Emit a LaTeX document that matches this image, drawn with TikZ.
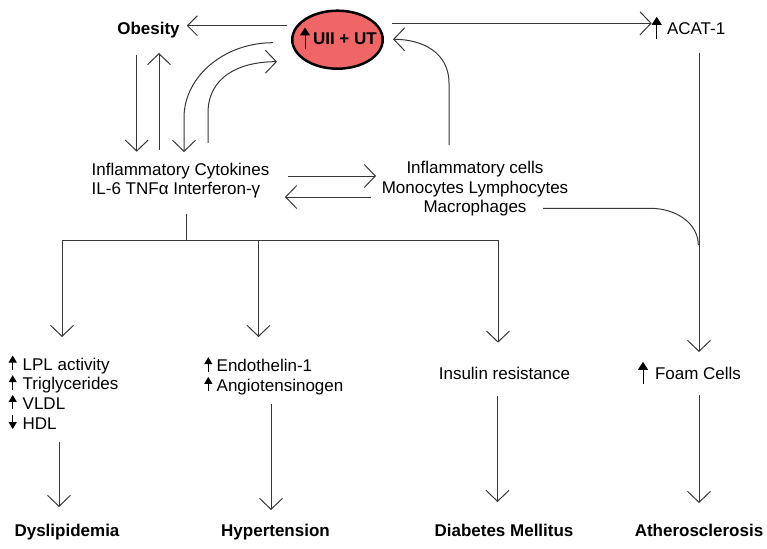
\documentclass[tikz,border=0pt]{standalone}
\usepackage{fontspec}
\setmainfont{Liberation Sans}
\usetikzlibrary{arrows.meta,shapes.geometric,calc}
\definecolor{uiired}{RGB}{240,102,102}
\definecolor{linec}{RGB}{55,55,55}
\newcommand\uarrs{\tikz[baseline=0pt]{\useasboundingbox (-4pt,0pt) rectangle (4pt,12pt);
  \draw[line width=1pt,-{Triangle[length=7pt,width=8pt]}] (0pt,0pt) -- (0pt,14.5pt);}}
\newcommand\darrs{\tikz[baseline=0pt]{\useasboundingbox (-4pt,0pt) rectangle (4pt,12pt);
  \draw[line width=1pt,-{Triangle[length=7pt,width=8pt]}] (0pt,14.5pt) -- (0pt,0pt);}}
\newcommand\uarrb{\tikz[baseline=0pt]{\useasboundingbox (-5pt,0pt) rectangle (5pt,12pt);
  \draw[line width=1pt,-{Triangle[length=8pt,width=10pt]}] (0pt,-4.5pt) -- (0pt,17.5pt);}}
\tikzset{
  every node/.style={inner sep=0pt, outer sep=0pt, font=\fontsize{17}{19.7}\selectfont},
  lbl/.style={anchor=base},
  outcome/.style={anchor=base, font=\fontsize{17}{19.7}\selectfont\bfseries},
  conn/.style={draw=linec, line width=1pt, -{Straight Barb[length=11pt,width=23pt,line width=1pt]}},
  plain/.style={draw=linec, line width=1pt},
  uiibox/.style={ellipse, draw=black, line width=2.5pt, fill=uiired, minimum width=90.5pt, minimum height=58pt}
}
\begin{document}
\begin{tikzpicture}[x=1pt,y=-1pt]
\useasboundingbox (0,0) rectangle (767,548);
% nodes (base of a multi-line node = baseline of its last line)
\node[outcome] (obes) at (148.5,35) {Obesity};
\node[uiibox] (uii) at (337.5,39.7) {};
\node[anchor=base west, font=\fontsize{17}{19.7}\selectfont\bfseries] (uiit) at (300,45) {\uarrb\hspace{3pt}UII + UT};
\node[anchor=base west] (acat) at (651.7,34.3) {\uarrb\hspace{5.3pt}ACAT-1};
\node[anchor=base west, align=left] (cyt) at (91.7,194.7) {Inflammatory Cytokines\\IL-6 TNFα Interferon-γ};
\node[anchor=base, align=center] (cells) at (475,212.9) {Inflammatory cells\\Monocytes Lymphocytes\\Macrophages};
\node[anchor=base west, align=left] (lpl) at (8.7,429.1) {\uarrs\hspace{6pt}LPL activity\\\uarrs\hspace{6pt}Triglycerides\\\uarrs\hspace{6pt}VLDL\\\darrs\hspace{6pt}HDL};
\node[anchor=base west, align=left] (endo) at (204.3,391.4) {\uarrs\hspace{4.4pt}Endothelin-1\\\uarrs\hspace{4.4pt}Angiotensinogen};
\node[lbl] (ins) at (504.5,379.3) {Insulin resistance};
\node[anchor=base west] (foam) at (638,379.3) {\uarrb\hspace{7pt}Foam Cells};
\node[outcome] (dysl) at (67,536) {Dyslipidemia};
\node[outcome] (hyp) at (275.5,536) {Hypertension};
\node[outcome] (diab) at (504,536) {Diabetes Mellitus};
\node[outcome] (ath) at (699,536) {Atherosclerosis};
% connectors
\draw[conn,-{Straight Barb[length=10pt,width=20pt,line width=1pt]}] ([xshift=-50.5pt,yshift=14pt]uii.center) -- ([xshift=38.2pt,yshift=9.3pt]obes.base);
\draw[conn] ([xshift=-11.8pt,yshift=-20pt]obes.base) -- ([xshift=45pt,yshift=43pt]cyt.base west);
\draw[conn] ([xshift=67.3pt,yshift=44.7pt]cyt.base west) -- ([xshift=10.5pt,yshift=-18pt]obes.base);
\draw[conn] ([xshift=-64.5pt,yshift=-3pt]uii.center) .. controls +(-49,0) and +(0,-41) .. ++(-89,75) -- ([xshift=92.3pt,yshift=42.7pt]cyt.base west);
\draw[conn] ([xshift=116.3pt,yshift=51.7pt]cyt.base west) -- ++(0,-30) .. controls +(0,-36) and +(-38,0) .. ([xshift=-60.5pt,yshift=-22pt]uii.center);
\draw[conn] ([xshift=54.2pt,yshift=16.4pt]uii.center) -- ([yshift=11pt]acat.base west);
\draw[conn] ([xshift=-26pt,yshift=67.9pt]cells.base) -- ++(0,-62) .. controls +(0,-30) and +(30,0) .. ([xshift=55.5pt,yshift=0.4pt]uii.center);
\draw[conn] ([xshift=47.3pt,yshift=-18.4pt]acat.base west) -- ([xshift=61pt,yshift=27.3pt]foam.base west);
\draw[plain] ([xshift=68pt,yshift=4.6pt]cells.base) -- ++(107,0) .. controls +(27,0) and +(0,-21) .. ++(48.3,36.7);
\draw[conn] ([xshift=196pt,yshift=18.7pt]cyt.base west) -- ([xshift=-99pt,yshift=36.9pt]cells.base);
\draw[conn] ([xshift=-104pt,yshift=15.9pt]cells.base) -- ([xshift=193.3pt,yshift=-2.3pt]cyt.base west);
\coordinate (j) at ([xshift=95pt,yshift=-45.3pt]cyt.base west);
\draw[plain] ([xshift=95pt,yshift=-19.3pt]cyt.base west) -- (j);
\draw[conn] (j) -| ([xshift=53.3pt,yshift=92.1pt]lpl.base west);
\draw[conn] (j) -| ([xshift=54.2pt,yshift=54.4pt]endo.base west);
\draw[conn] (j) -| ([xshift=-6.5pt,yshift=36.6pt]ins.base);
\draw[conn] ([xshift=50.3pt,yshift=-12.6pt]lpl.base west) -- ([xshift=-8pt,yshift=29pt]dysl.base);
\draw[conn] ([xshift=66.7pt,yshift=-12.6pt]endo.base west) -- ([xshift=-4.5pt,yshift=26pt]hyp.base);
\draw[conn] ([xshift=-7pt,yshift=-16.4pt]ins.base) -- ([xshift=-6.5pt,yshift=34pt]diab.base);
\draw[conn] ([xshift=61pt,yshift=-15.7pt]foam.base west) -- ([yshift=33pt]ath.base);
\end{tikzpicture}
\end{document}
